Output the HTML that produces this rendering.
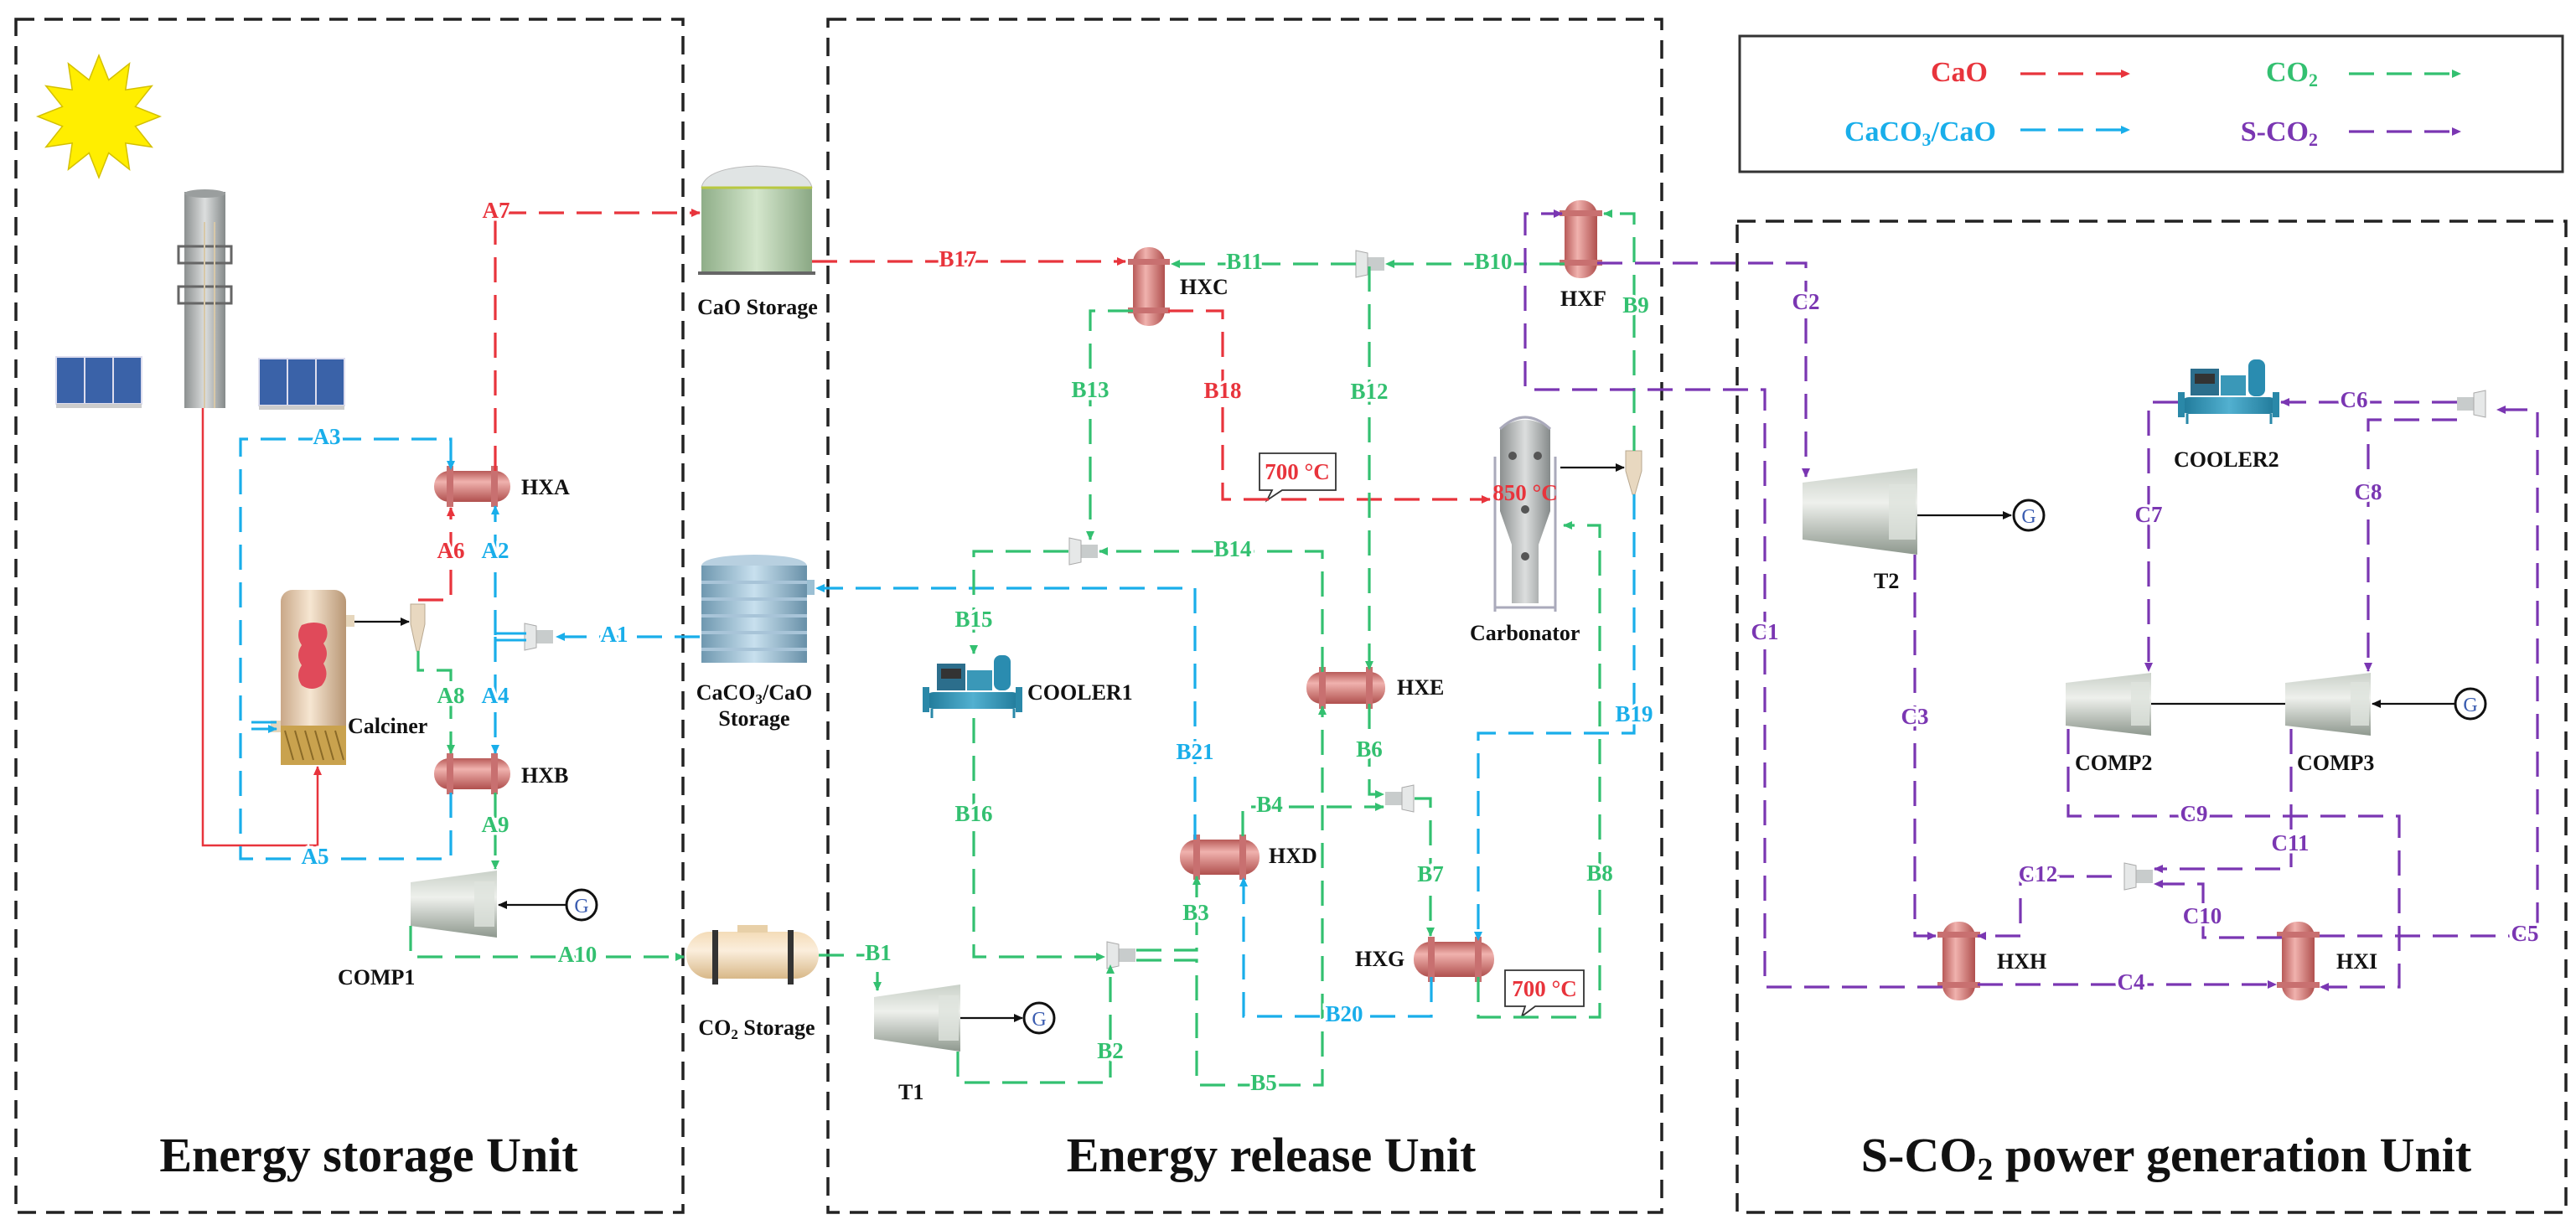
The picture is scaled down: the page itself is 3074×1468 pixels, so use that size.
<!DOCTYPE html>
<html><head><meta charset="utf-8"><style>
html,body{margin:0;padding:0;background:#fff;}
svg{display:block;}
text{font-family:"Liberation Serif",serif;font-weight:bold;}
.lb{font-size:27px;text-anchor:middle;dominant-baseline:middle;stroke:#fff;stroke-width:7px;paint-order:stroke;}
.nm{font-size:26px;fill:#111;}
.tt{font-size:58px;fill:#111;text-anchor:middle;}
.r{fill:#e8343c}.b{fill:#19aeea}.g{fill:#33c070}.p{fill:#7a36b2}
.dr,.db,.dg,.dp{fill:none;stroke-width:3.2;stroke-dasharray:30 15;}
.dr{stroke:#e8343c;marker-end:url(#mr)}.db{stroke:#19aeea;marker-end:url(#mb)}
.dg{stroke:#33c070;marker-end:url(#mg)}.dp{stroke:#7a36b2;marker-end:url(#mp)}
</style></head><body>
<svg width="3074" height="1468" viewBox="0 0 3074 1468" xmlns="http://www.w3.org/2000/svg">
<defs>
<marker id="mr" markerWidth="12" markerHeight="12" refX="10" refY="6" orient="auto" markerUnits="userSpaceOnUse"><path d="M0,1 L11,6 L0,11z" fill="#e8343c"/></marker>
<marker id="mb" markerWidth="12" markerHeight="12" refX="10" refY="6" orient="auto" markerUnits="userSpaceOnUse"><path d="M0,1 L11,6 L0,11z" fill="#19aeea"/></marker>
<marker id="mg" markerWidth="12" markerHeight="12" refX="10" refY="6" orient="auto" markerUnits="userSpaceOnUse"><path d="M0,1 L11,6 L0,11z" fill="#33c070"/></marker>
<marker id="mp" markerWidth="12" markerHeight="12" refX="10" refY="6" orient="auto" markerUnits="userSpaceOnUse"><path d="M0,1 L11,6 L0,11z" fill="#7a36b2"/></marker>
<marker id="mk" markerWidth="12" markerHeight="12" refX="10" refY="6" orient="auto" markerUnits="userSpaceOnUse"><path d="M0,1 L11,6 L0,11z" fill="#111"/></marker>
<marker id="mrs" markerWidth="12" markerHeight="12" refX="10" refY="6" orient="auto" markerUnits="userSpaceOnUse"><path d="M0,1 L11,6 L0,11z" fill="#e8343c"/></marker>
<linearGradient id="hx" x1="0" y1="0" x2="0" y2="1"><stop offset="0" stop-color="#b85a58"/><stop offset=".35" stop-color="#f0b2ae"/><stop offset="1" stop-color="#b0504e"/></linearGradient>
<linearGradient id="hxv" x1="0" y1="0" x2="1" y2="0"><stop offset="0" stop-color="#b85a58"/><stop offset=".4" stop-color="#f0b2ae"/><stop offset="1" stop-color="#b0504e"/></linearGradient>
<linearGradient id="cp" x1="0" y1="0" x2="0" y2="1"><stop offset="0" stop-color="#c9d0c8"/><stop offset=".4" stop-color="#eef0ec"/><stop offset="1" stop-color="#8e988e"/></linearGradient>
<linearGradient id="gs" x1="0" y1="0" x2="1" y2="0"><stop offset="0" stop-color="#8fae88"/><stop offset=".5" stop-color="#d4e6cc"/><stop offset="1" stop-color="#8aa884"/></linearGradient>
<linearGradient id="bs" x1="0" y1="0" x2="1" y2="0"><stop offset="0" stop-color="#6f98b0"/><stop offset=".5" stop-color="#c8e0ee"/><stop offset="1" stop-color="#6890a8"/></linearGradient>
<linearGradient id="ys" x1="0" y1="0" x2="0" y2="1"><stop offset="0" stop-color="#f4dcb8"/><stop offset=".4" stop-color="#fbeedc"/><stop offset="1" stop-color="#d8b888"/></linearGradient>
<linearGradient id="gt" x1="0" y1="0" x2="1" y2="0"><stop offset="0" stop-color="#8c9090"/><stop offset=".5" stop-color="#dcdede"/><stop offset="1" stop-color="#858a8a"/></linearGradient>
<linearGradient id="cal" x1="0" y1="0" x2="1" y2="0"><stop offset="0" stop-color="#c9a888"/><stop offset=".45" stop-color="#f6e6d2"/><stop offset="1" stop-color="#b89674"/></linearGradient>
<linearGradient id="tl" x1="0" y1="0" x2="1" y2="0"><stop offset="0" stop-color="#1e7898"/><stop offset=".5" stop-color="#52b0d0"/><stop offset="1" stop-color="#1e7898"/></linearGradient>
<g id="mix"><rect x="0" y="-8" width="22" height="16" fill="#c8cccc"/><path d="M20,-13 L34,-16 L34,16 L20,13z" fill="#e6e8e8" stroke="#aaa" stroke-width="1"/></g>
</defs>

<!-- unit boxes -->
<g fill="none" stroke="#222" stroke-width="3.5" stroke-dasharray="22 12">
<rect x="19" y="23" width="796" height="1424"/>
<rect x="988" y="23" width="995" height="1424"/>
<rect x="2073" y="264" width="989" height="1183"/>
</g>
<rect x="2076" y="43" width="982" height="162" fill="none" stroke="#333" stroke-width="3"/>

<!-- legend -->
<text x="2372" y="97" font-size="34" text-anchor="end" class="r">CaO</text>
<text x="2382" y="168" font-size="34" text-anchor="end" class="b">CaCO<tspan font-size="22" dy="6">3</tspan><tspan dy="-6">/CaO</tspan></text>
<text x="2766" y="97" font-size="34" text-anchor="end" class="g">CO<tspan font-size="22" dy="6">2</tspan></text>
<text x="2766" y="168" font-size="34" text-anchor="end" class="p">S-CO<tspan font-size="22" dy="6">2</tspan></text>
<path class="dr" d="M2411,88 H2541" stroke-dasharray="28 16"/>
<path class="db" d="M2411,155 H2541" stroke-dasharray="28 16"/>
<path class="dg" d="M2803,88 H2936" stroke-dasharray="28 16"/>
<path class="dp" d="M2803,157 H2936" stroke-dasharray="28 16"/>

<!-- sun -->
<polygon fill="#ffee00" stroke="#d4c000" stroke-width="1.5" points="118,66 129.7,95.5 154.5,75.8 149.8,107.2 181.2,102.5 161.5,127.3 191,139 161.5,150.7 181.2,175.5 149.8,170.8 154.5,202.2 129.7,182.5 118,212 106.3,182.5 81.5,202.2 86.2,170.8 54.8,175.5 74.5,150.7 45,139 74.5,127.3 54.8,102.5 86.2,107.2 81.5,75.8 106.3,95.5"/>
<!-- tower -->
<rect x="220" y="229" width="49" height="258" fill="url(#gt)"/>
<ellipse cx="244.5" cy="231" rx="24.5" ry="5" fill="#9a9e9e"/>
<rect x="213" y="294" width="63" height="20" fill="none" stroke="#666" stroke-width="3"/>
<rect x="213" y="342" width="63" height="20" fill="none" stroke="#666" stroke-width="3"/>
<g stroke="#d8c8a8" stroke-width="2"><line x1="244" y1="265" x2="244" y2="487"/><line x1="256" y1="265" x2="256" y2="487"/></g>
<!-- panels -->
<g fill="#3a62a8" stroke="#dde" stroke-width="2">
<rect x="67" y="426" width="34" height="56"/><rect x="101" y="426" width="34" height="56"/><rect x="135" y="426" width="34" height="56"/>
<rect x="309" y="428" width="34" height="56"/><rect x="343" y="428" width="34" height="56"/><rect x="377" y="428" width="34" height="56"/>
</g>
<rect x="67" y="482" width="102" height="5" fill="#ccc"/><rect x="309" y="484" width="102" height="5" fill="#ccc"/>

<!-- calciner -->
<rect x="335" y="704" width="78" height="209" rx="14" fill="url(#cal)"/>
<rect x="335" y="866" width="78" height="47" fill="#c9a24e"/>
<path d="M340,872 l10,35 M352,872 l10,35 M364,872 l10,35 M376,872 l10,35 M388,872 l10,35 M400,872 l10,35" stroke="#8a6a28" stroke-width="2"/>
<path d="M360,746 q15,-6 28,0 q6,12 -2,22 q8,12 0,24 q8,14 -2,26 q-12,8 -24,0 q-8,-12 0,-24 q-8,-12 0,-24 q-8,-12 0,-24z" fill="#e04a5a"/>
<rect x="413" y="734" width="10" height="14" fill="#e6d6bc"/>
<rect x="323" y="860" width="12" height="14" fill="#e6d6bc"/>
<!-- calciner cyclone -->
<path d="M490,721 H507 V745 L500,777 H497 L490,745z" fill="#e8d8c0" stroke="#b8a890" stroke-width="1"/>
<line x1="423" y1="742" x2="488" y2="742" stroke="#111" stroke-width="2.2" marker-end="url(#mk)"/>

<!-- tower red line -->
<path d="M242,487 V1009 H379 V915" fill="none" stroke="#e8343c" stroke-width="2.5" marker-end="url(#mrs)"/>

<!-- HXA/HXB -->
<g><rect x="518" y="562" width="91" height="37" rx="18" fill="url(#hx)"/><rect x="533" y="556" width="8" height="49" fill="#c87070"/><rect x="586" y="556" width="8" height="49" fill="#c87070"/></g>
<g><rect x="518" y="905" width="91" height="37" rx="18" fill="url(#hx)"/><rect x="533" y="899" width="8" height="49" fill="#c87070"/><rect x="586" y="899" width="8" height="49" fill="#c87070"/></g>
<text x="622" y="590" class="nm">HXA</text>
<text x="622" y="934" class="nm">HXB</text>
<text x="415" y="875" class="nm">Calciner</text>

<!-- COMP1 -->
<polygon points="490,1053 593,1039 593,1119 490,1105" fill="url(#cp)"/>
<rect x="566" y="1052" width="24" height="54" fill="#dfe3dd" opacity=".8"/>
<line x1="676" y1="1080" x2="595" y2="1080" stroke="#111" stroke-width="2.2" marker-end="url(#mk)"/>
<circle cx="694" cy="1080" r="18" fill="#fff" stroke="#111" stroke-width="3"/>
<text x="694" y="1089" font-size="24" text-anchor="middle" fill="#3a5cb0" style="font-weight:normal">G</text>
<text x="403" y="1175" class="nm">COMP1</text>

<!-- storages -->
<rect x="837" y="224" width="132" height="102" fill="url(#gs)"/>
<path d="M837,224 Q842,200 903,198 Q964,200 969,224z" fill="#e0e4e4" stroke="#bbb"/>
<line x1="837" y1="224" x2="969" y2="224" stroke="#b8c840" stroke-width="3"/>
<rect x="833" y="324" width="140" height="4" fill="#666"/>
<text x="904" y="375" class="nm" text-anchor="middle">CaO Storage</text>

<rect x="837" y="675" width="126" height="116" fill="url(#bs)"/>
<path d="M837,675 Q840,663 900,662 Q960,663 963,675z" fill="#b8d0e0"/>
<g stroke="#a8c4d8" stroke-width="4"><line x1="837" y1="695" x2="963" y2="695"/><line x1="837" y1="715" x2="963" y2="715"/><line x1="837" y1="735" x2="963" y2="735"/><line x1="837" y1="755" x2="963" y2="755"/><line x1="837" y1="775" x2="963" y2="775"/></g>
<rect x="963" y="692" width="9" height="18" fill="#9cc0d4"/>
<text x="900" y="835" class="nm" text-anchor="middle">CaCO<tspan font-size="17" dy="5">3</tspan><tspan dy="-5">/CaO</tspan></text>
<text x="900" y="866" class="nm" text-anchor="middle">Storage</text>

<rect x="819" y="1112" width="158" height="56" rx="28" fill="url(#ys)"/>
<rect x="880" y="1104" width="36" height="9" fill="#e8d0a8"/>
<rect x="850" y="1110" width="7" height="65" fill="#333"/><rect x="940" y="1110" width="7" height="65" fill="#333"/>
<text x="903" y="1235" class="nm" text-anchor="middle">CO<tspan font-size="17" dy="5">2</tspan><tspan dy="-5"> Storage</tspan></text>

<!-- mixers -->
<use href="#mix" transform="translate(660,760) scale(-1,1)"/>
<use href="#mix" transform="translate(1652,315) scale(-1,1)"/>
<use href="#mix" transform="translate(1310,658) scale(-1,1)"/>
<use href="#mix" transform="translate(1355,1140) scale(-1,1)"/>
<use href="#mix" transform="translate(1653,953)"/>
<use href="#mix" transform="translate(2932,482)"/>
<use href="#mix" transform="translate(2569,1046) scale(-1,1)"/>

<!-- energy release components -->
<g><rect x="1352" y="295" width="38" height="94" rx="18" fill="url(#hxv)"/><rect x="1346" y="309" width="50" height="7" fill="#c87070"/><rect x="1346" y="367" width="50" height="7" fill="#c87070"/></g>
<text x="1408" y="351" class="nm">HXC</text>
<g><rect x="1867" y="239" width="39" height="93" rx="18" fill="url(#hxv)"/><rect x="1861" y="251" width="51" height="7" fill="#c87070"/><rect x="1861" y="310" width="51" height="7" fill="#c87070"/></g>
<text x="1862" y="365" class="nm">HXF</text>
<g><rect x="1559" y="802" width="94" height="38" rx="18" fill="url(#hx)"/><rect x="1574" y="796" width="8" height="50" fill="#c87070"/><rect x="1630" y="796" width="8" height="50" fill="#c87070"/></g>
<text x="1667" y="829" class="nm">HXE</text>
<g><rect x="1408" y="1002" width="95" height="42" rx="20" fill="url(#hx)"/><rect x="1424" y="996" width="8" height="54" fill="#c87070"/><rect x="1479" y="996" width="8" height="54" fill="#c87070"/></g>
<text x="1514" y="1030" class="nm">HXD</text>
<g><rect x="1687" y="1124" width="96" height="42" rx="20" fill="url(#hx)"/><rect x="1704" y="1118" width="8" height="54" fill="#c87070"/><rect x="1760" y="1118" width="8" height="54" fill="#c87070"/></g>
<text x="1617" y="1153" class="nm">HXG</text>

<!-- carbonator -->
<path d="M1790,512 Q1820,490 1850,512 V610 L1836,650 V720 H1804 V650 L1790,610z" fill="url(#gt)"/>
<path d="M1784,545 V730 M1856,545 V730 M1784,725 H1856 M1790,512 Q1820,484 1850,512" fill="none" stroke="#aab" stroke-width="3"/>
<g fill="#555"><circle cx="1805" cy="544" r="5"/><circle cx="1835" cy="544" r="5"/><circle cx="1820" cy="608" r="5"/><circle cx="1820" cy="664" r="5"/></g>
<text x="1820" y="597" font-size="27" text-anchor="middle" class="r">850 °C</text>
<text x="1754" y="764" class="nm">Carbonator</text>
<path d="M1940,538 H1959 V562 L1951,590 H1948 L1940,562z" fill="#e8d8c0" stroke="#b8a890" stroke-width="1"/>
<line x1="1862" y1="558" x2="1938" y2="558" stroke="#111" stroke-width="2.2" marker-end="url(#mk)"/>

<!-- callouts -->
<path d="M1503,541 H1594 V585 H1530 L1512,597 L1518,585 H1503z" fill="#fff" stroke="#333" stroke-width="1.8"/>
<text x="1548" y="572" font-size="27" text-anchor="middle" class="r">700 °C</text>
<path d="M1796,1158 H1890 V1201 H1832 L1816,1213 L1820,1201 H1796z" fill="#fff" stroke="#333" stroke-width="1.8"/>
<text x="1843" y="1189" font-size="27" text-anchor="middle" class="r">700 °C</text>

<!-- cooler1 -->
<g>
<rect x="1104" y="826" width="114" height="20" rx="10" fill="url(#tl)"/>
<rect x="1101" y="820" width="8" height="30" fill="#2a88a8"/><rect x="1212" y="820" width="8" height="30" fill="#2a88a8"/>
<rect x="1118" y="792" width="34" height="32" fill="#2c6e8c"/><rect x="1123" y="798" width="24" height="12" fill="#333"/>
<rect x="1154" y="800" width="30" height="24" fill="#3a98b8"/>
<rect x="1186" y="782" width="20" height="42" rx="8" fill="#2a8cb0"/>
<line x1="1112" y1="846" x2="1112" y2="857" stroke="#2a88a8" stroke-width="3"/><line x1="1210" y1="846" x2="1210" y2="857" stroke="#2a88a8" stroke-width="3"/>
</g>
<text x="1226" y="835" class="nm">COOLER1</text>

<!-- T1 -->
<polygon points="1043,1190 1146,1175 1146,1255 1043,1240" fill="url(#cp)"/>
<rect x="1120" y="1188" width="24" height="54" fill="#dfe3dd" opacity=".8"/>
<line x1="1146" y1="1215" x2="1220" y2="1215" stroke="#111" stroke-width="2.2" marker-end="url(#mk)"/>
<circle cx="1240" cy="1215" r="18" fill="#fff" stroke="#111" stroke-width="3"/>
<text x="1240" y="1224" font-size="24" text-anchor="middle" fill="#3a5cb0" style="font-weight:normal">G</text>
<text x="1072" y="1312" class="nm">T1</text>

<!-- S-CO2 components -->
<polygon points="2151,576 2288,559 2288,662 2151,644" fill="url(#cp)"/>
<rect x="2254" y="578" width="32" height="66" fill="#dfe3dd" opacity=".8"/>
<line x1="2288" y1="615" x2="2400" y2="615" stroke="#111" stroke-width="2.2" marker-end="url(#mk)"/>
<circle cx="2421" cy="615" r="18" fill="#fff" stroke="#111" stroke-width="3"/>
<text x="2421" y="624" font-size="24" text-anchor="middle" fill="#3a5cb0" style="font-weight:normal">G</text>
<text x="2236" y="702" class="nm">T2</text>

<polygon points="2465,815 2567,803 2567,878 2465,866" fill="url(#cp)"/>
<rect x="2543" y="814" width="22" height="52" fill="#dfe3dd" opacity=".8"/>
<polygon points="2727,815 2829,803 2829,878 2727,866" fill="url(#cp)"/>
<rect x="2805" y="814" width="22" height="52" fill="#dfe3dd" opacity=".8"/>
<line x1="2567" y1="840" x2="2727" y2="840" stroke="#111" stroke-width="2.2"/>
<line x1="2930" y1="840" x2="2831" y2="840" stroke="#111" stroke-width="2.2" marker-end="url(#mk)"/>
<circle cx="2948" cy="840" r="18" fill="#fff" stroke="#111" stroke-width="3"/>
<text x="2948" y="849" font-size="24" text-anchor="middle" fill="#3a5cb0" style="font-weight:normal">G</text>
<text x="2476" y="919" class="nm">COMP2</text>
<text x="2741" y="919" class="nm">COMP3</text>

<g>
<rect x="2602" y="474" width="116" height="20" rx="10" fill="url(#tl)"/>
<rect x="2599" y="468" width="8" height="30" fill="#2a88a8"/><rect x="2712" y="468" width="8" height="30" fill="#2a88a8"/>
<rect x="2614" y="440" width="34" height="32" fill="#2c6e8c"/><rect x="2619" y="446" width="24" height="12" fill="#333"/>
<rect x="2650" y="448" width="30" height="24" fill="#3a98b8"/>
<rect x="2683" y="429" width="20" height="44" rx="8" fill="#2a8cb0"/>
<line x1="2610" y1="494" x2="2610" y2="506" stroke="#2a88a8" stroke-width="3"/><line x1="2710" y1="494" x2="2710" y2="506" stroke="#2a88a8" stroke-width="3"/>
</g>
<text x="2594" y="557" class="nm">COOLER2</text>

<g><rect x="2318" y="1100" width="39" height="94" rx="18" fill="url(#hxv)"/><rect x="2312" y="1112" width="51" height="7" fill="#c87070"/><rect x="2312" y="1172" width="51" height="7" fill="#c87070"/></g>
<text x="2383" y="1156" class="nm">HXH</text>
<g><rect x="2723" y="1100" width="39" height="94" rx="18" fill="url(#hxv)"/><rect x="2717" y="1112" width="51" height="7" fill="#c87070"/><rect x="2717" y="1172" width="51" height="7" fill="#c87070"/></g>
<text x="2788" y="1156" class="nm">HXI</text>

<!-- red streams -->
<path class="dr" d="M591,562 V254 H835"/>
<path class="dr" d="M499,716 H538 V606"/>
<path class="dr" d="M969,312 H1343"/>
<path class="dr" d="M1394,371 H1459 V596 H1778"/>

<!-- blue streams -->
<path class="db" d="M538,946 V1025 H287 V524 H538 V560"/>
<path d="M300,862 H330 M300,870 H330" stroke="#19aeea" stroke-width="3" marker-end="url(#mb)" fill="none"/>
<path class="db" d="M835,760 H664"/>
<path d="M628,756 H591 M628,764 H591" stroke="#19aeea" stroke-width="3" fill="none"/>
<path class="db" d="M591,758 V604"/>
<path class="db" d="M591,760 V899"/>
<path class="db" d="M1426,1002 V702 H974"/>
<path class="db" d="M1950,590 V875 H1764 V1122"/>
<path class="db" d="M1708,1166 V1213 H1484 V1048"/>

<!-- green streams -->
<path class="dg" d="M499,777 V800 H538 V899"/>
<path class="dg" d="M591,946 V1037"/>
<path class="dg" d="M490,1105 V1142 H816"/>
<path class="dg" d="M977,1140 H1047 V1182"/>
<path class="dg" d="M1143,1255 V1292 H1325 V1152"/>
<path class="dg" d="M1162,857 V1142 H1318"/>
<path class="dg" d="M1356,1134 H1428 V1046"/>
<path class="dg" d="M1356,1146 H1428 V1295 H1578 V843"/>
<path class="dg" d="M1483,998 V963 H1651"/>
<path class="dg" d="M1634,840 V948 H1651"/>
<path class="dg" d="M1688,953 H1707 V1117"/>
<path class="dg" d="M1764,1166 V1214 H1909 V627 H1866"/>
<path class="dg" d="M1950,538 V255 H1914"/>
<path class="dg" d="M1867,315 H1654"/>
<path class="dg" d="M1618,315 H1398"/>
<path class="dg" d="M1634,318 V799"/>
<path class="dg" d="M1352,371 H1301 V644"/>
<path class="dg" d="M1578,802 V658 H1312"/>
<path class="dg" d="M1275,658 H1162 V780"/>

<!-- purple streams -->
<path class="dp" d="M1906,314 H2155 V569"/>
<path class="dp" d="M2318,1178 H2106 V465 H1820 V255 H1864"/>
<path class="dp" d="M2285,662 V1117 H2310"/>
<path class="dp" d="M2360,1175 H2716"/>
<path class="dp" d="M2768,1117 H3028 V489 H2980"/>
<path class="dp" d="M2932,480 H2722"/>
<path class="dp" d="M2599,480 H2564 V801"/>
<path class="dp" d="M2932,501 H2826 V801"/>
<path class="dp" d="M2468,870 V974 H2863 V1178 H2769"/>
<path class="dp" d="M2734,870 V1037 H2571"/>
<path class="dp" d="M2723,1119 H2629 V1055 H2571"/>
<path class="dp" d="M2520,1046 H2411 V1117 H2360"/>

<!-- stream labels -->
<g class="lb">
<text x="592" y="254" class="r">A7</text>
<text x="538" y="660" class="r">A6</text>
<text x="1143" y="312" class="r">B17</text>
<text x="1459" y="469" class="r">B18</text>
<text x="390" y="524" class="b">A3</text>
<text x="376" y="1025" class="b">A5</text>
<text x="591" y="660" class="b">A2</text>
<text x="733" y="760" class="b">A1</text>
<text x="591" y="833" class="b">A4</text>
<text x="1426" y="900" class="b">B21</text>
<text x="1950" y="855" class="b">B19</text>
<text x="1604" y="1213" class="b">B20</text>
<text x="538" y="833" class="g">A8</text>
<text x="591" y="987" class="g">A9</text>
<text x="689" y="1142" class="g">A10</text>
<text x="1048" y="1140" class="g">B1</text>
<text x="1325" y="1257" class="g">B2</text>
<text x="1427" y="1092" class="g">B3</text>
<text x="1515" y="963" class="g">B4</text>
<text x="1508" y="1295" class="g">B5</text>
<text x="1634" y="897" class="g">B6</text>
<text x="1707" y="1046" class="g">B7</text>
<text x="1909" y="1045" class="g">B8</text>
<text x="1952" y="367" class="g">B9</text>
<text x="1782" y="315" class="g">B10</text>
<text x="1485" y="315" class="g">B11</text>
<text x="1634" y="470" class="g">B12</text>
<text x="1301" y="468" class="g">B13</text>
<text x="1471" y="658" class="g">B14</text>
<text x="1162" y="742" class="g">B15</text>
<text x="1162" y="974" class="g">B16</text>
<text x="2106" y="757" class="p">C1</text>
<text x="2155" y="363" class="p">C2</text>
<text x="2285" y="858" class="p">C3</text>
<text x="2543" y="1175" class="p">C4</text>
<text x="3013" y="1117" class="p">C5</text>
<text x="2809" y="480" class="p">C6</text>
<text x="2564" y="617" class="p">C7</text>
<text x="2826" y="590" class="p">C8</text>
<text x="2618" y="974" class="p">C9</text>
<text x="2628" y="1096" class="p">C10</text>
<text x="2733" y="1009" class="p">C11</text>
<text x="2432" y="1046" class="p">C12</text>
</g>

<!-- titles -->
<text x="440" y="1398" class="tt">Energy storage Unit</text>
<text x="1517" y="1398" class="tt">Energy release Unit</text>
<text x="2585" y="1398" class="tt">S-CO<tspan font-size="38" dy="10">2</tspan><tspan dy="-10"> power generation Unit</tspan></text>
</svg>
</body></html>
